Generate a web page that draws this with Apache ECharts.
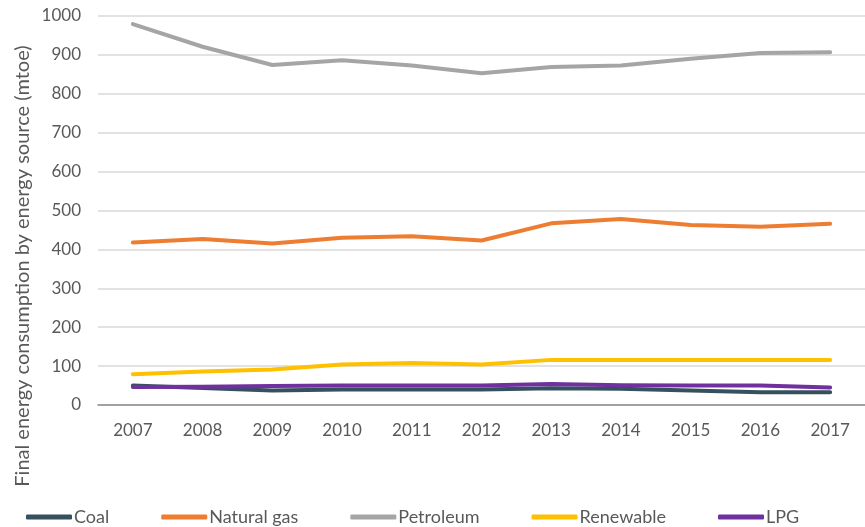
<!DOCTYPE html>
<html>
<head>
<meta charset="utf-8">
<script src="https://cdn.jsdelivr.net/npm/echarts@6/dist/echarts.min.js"></script>
<style>
    html, body { margin: 0; padding: 0; background: #fff; }
    #chart { width: 865px; height: 527px; }
</style>
</head>
<body>
<div id="chart"></div>
<script>
// years on the x axis
const years = ['2007', '2008', '2009', '2010', '2011', '2012', '2013', '2014', '2015', '2016', '2017'];

// final energy consumption, mtoe
const coal = [50, 44, 37, 40, 40, 40, 43, 42, 37, 33, 33];
const naturalGas = [418, 427, 415, 430, 434, 423, 467, 478, 463, 458, 466];
const petroleum = [979, 921, 874, 886, 873, 853, 869, 873, 890, 905, 907];
const renewable = [79, 86, 91, 104, 108, 104, 116, 116, 116, 116, 116];
const lpg = [46, 47, 49, 50, 50, 50, 54, 51, 50, 50, 45];

const names = ['Coal', 'Natural gas', 'Petroleum', 'Renewable', 'LPG'];
const colors = ['#37505f', '#ed7d31', '#a5a5a5', '#ffc000', '#7030a0'];

const font = 'Lato';
const txt = '#595959';

function makeLine(name, data, color) {
    return {
        name: name,
        type: 'line',
        data: data,
        symbol: 'none',
        lineStyle: { color: color, width: 4, cap: 'round', join: 'round' },
        itemStyle: { color: color }
    };
}

let myChart = echarts.init(document.getElementById('chart'));
myChart.setOption({
    animation: false,
    color: colors,
    grid: {
        left: 98,
        top: 16,
        bottom: 122,
        width: 774
    },
    legend: {
        left: 21,
        top: 503,
        icon: 'roundRect',
        itemWidth: 46,
        itemHeight: 5,
        itemGap: 52,
        textStyle: { fontFamily: font, fontSize: 18, color: txt, padding: [0, 0, 0, -3] },
        data: names
    },
    graphic: [{
        type: 'text',
        rotation: Math.PI / 2,
        x: 23,
        y: 266,
        style: {
            text: 'Final energy consumption by energy source (mtoe)',
            fontFamily: font,
            fontSize: 20,
            fill: txt,
            textAlign: 'center',
            textVerticalAlign: 'middle'
        }
    }],
    xAxis: {
        type: 'category',
        data: years,
        boundaryGap: true,
        axisLine: { lineStyle: { color: '#8c8c8c', width: 1.5 } },
        axisTick: { show: false },
        axisLabel: { fontFamily: font, fontSize: 17, color: txt, margin: 17 }
    },
    yAxis: {
        type: 'value',
        min: 0,
        max: 1000,
        interval: 100,
        axisLine: { show: false },
        axisTick: { show: false },
        splitLine: { lineStyle: { color: '#d9d9d9', width: 1.5 } },
        axisLabel: {
            fontFamily: font, fontSize: 17, color: txt, margin: 17,
            formatter: function (v) { return String(v); }
        }
    },
    series: [
        makeLine(names[0], coal, colors[0]),
        makeLine(names[1], naturalGas, colors[1]),
        makeLine(names[2], petroleum, colors[2]),
        makeLine(names[3], renewable, colors[3]),
        makeLine(names[4], lpg, colors[4])
    ]
});
</script>
</body>
</html>
